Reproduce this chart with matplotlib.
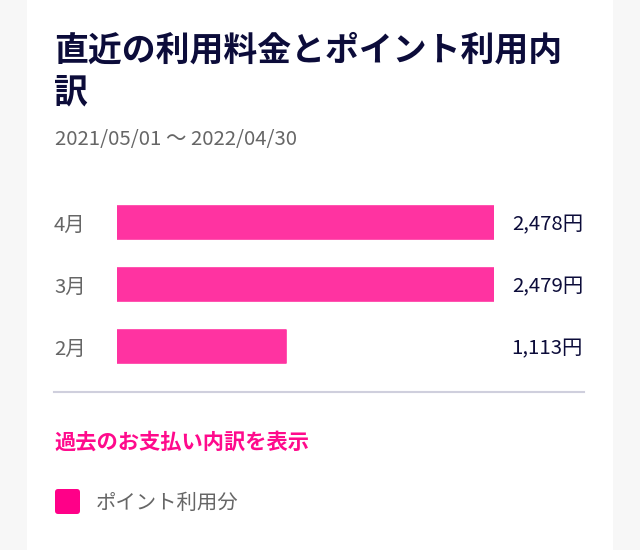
import matplotlib
matplotlib.use("Agg")
import matplotlib.pyplot as plt
import matplotlib.transforms as mtransforms
from matplotlib.patches import Rectangle, FancyBboxPatch

# Data --------------------------------------------------------------------

months = ["4月", "3月", "2月"]
amounts = [2478, 2479, 1113]
title_lines = ["直近の利用料金とポイント利用内", "訳"]
period = "2021/05/01 〜 2022/04/30"
link_text = "過去のお支払い内訳を表示"
legend_label = "ポイント利用分"

# Style -------------------------------------------------------------------

plt.rcParams["font.family"] = ["Noto Sans CJK JP", "DejaVu Sans"]

W, H = 640, 550
bar_color = "#ff33a1"
legend_color = "#ff0088"
navy = "#0c0c3a"
gray = "#666666"
shift = 2.5   # text sits a bit lower than its bbox centre


def fx(px):
    return px / W


def fy(py):
    return 1 - (py + shift) / H


fig = plt.figure(figsize=(W / 100, H / 100), dpi=100)
fig.patch.set_facecolor("#f7f7f7")

# white card (behind everything)
fig.patches.append(Rectangle((fx(27), 0), fx(613) - fx(27), 1,
                             transform=fig.transFigure, facecolor="white",
                             edgecolor="none", zorder=-10))

# Title and period ------------------------------------------------------

fig.text(fx(54), fy(48), title_lines[0], fontsize=24.4, fontweight="bold",
         color=navy, va="center", ha="left")
fig.text(fx(54), fy(89), title_lines[1], fontsize=24.4, fontweight="bold",
         color=navy, va="center", ha="left")
fig.text(fx(55), fy(137), period, fontsize=14.7, color=gray, va="center", ha="left")

# Bars --------------------------------------------------------------------

top_px, bottom_px = 191.5, 377.5
ax = fig.add_axes([fx(117), 1 - bottom_px / H, fx(494) - fx(117), (bottom_px - top_px) / H])
ax.set_zorder(5)
ypos = list(range(len(months)))[::-1]   # 4月 on top
ax.barh(ypos, amounts, height=33 / 62, color=bar_color, edgecolor=bar_color,
        linewidth=1.2, joinstyle="round")
ax.set_xlim(0, max(amounts))
ax.set_ylim(-0.5, len(months) - 0.5)
ax.axis("off")

trans = mtransforms.blended_transform_factory(fig.transFigure, ax.transData)
trans = trans + mtransforms.ScaledTranslation(0, -shift / 100, fig.dpi_scale_trans)
for y, m, a in zip(ypos, months, amounts):
    ax.text(fx(54), y, m, transform=trans, fontsize=14.7, color=gray,
            va="center", ha="left", clip_on=False)
    ax.text(fx(583), y, f"{a:,}円", transform=trans, fontsize=14.7, color=navy,
            va="center", ha="right", clip_on=False)

# divider
fig.add_artist(plt.Line2D([fx(54), fx(584)], [1 - 392 / H, 1 - 392 / H],
                          transform=fig.transFigure, color="#cfcfdd", linewidth=1.5))

# link + legend -----------------------------------------------------------

fig.text(fx(54), fy(440), link_text, fontsize=15.3, fontweight="bold",
         color="#ff0a8c", va="center", ha="left")

fig.patches.append(FancyBboxPatch((fx(55), 1 - 514 / H), fx(80) - fx(55), (514 - 489) / H,
                                  boxstyle="round,pad=0,rounding_size=0.005",
                                  transform=fig.transFigure, facecolor=legend_color,
                                  edgecolor="none", mutation_aspect=W / H))
fig.text(fx(96), fy(501), legend_label, fontsize=14.7, color=gray,
         va="center", ha="left")

fig.savefig("out.png", dpi=100)
